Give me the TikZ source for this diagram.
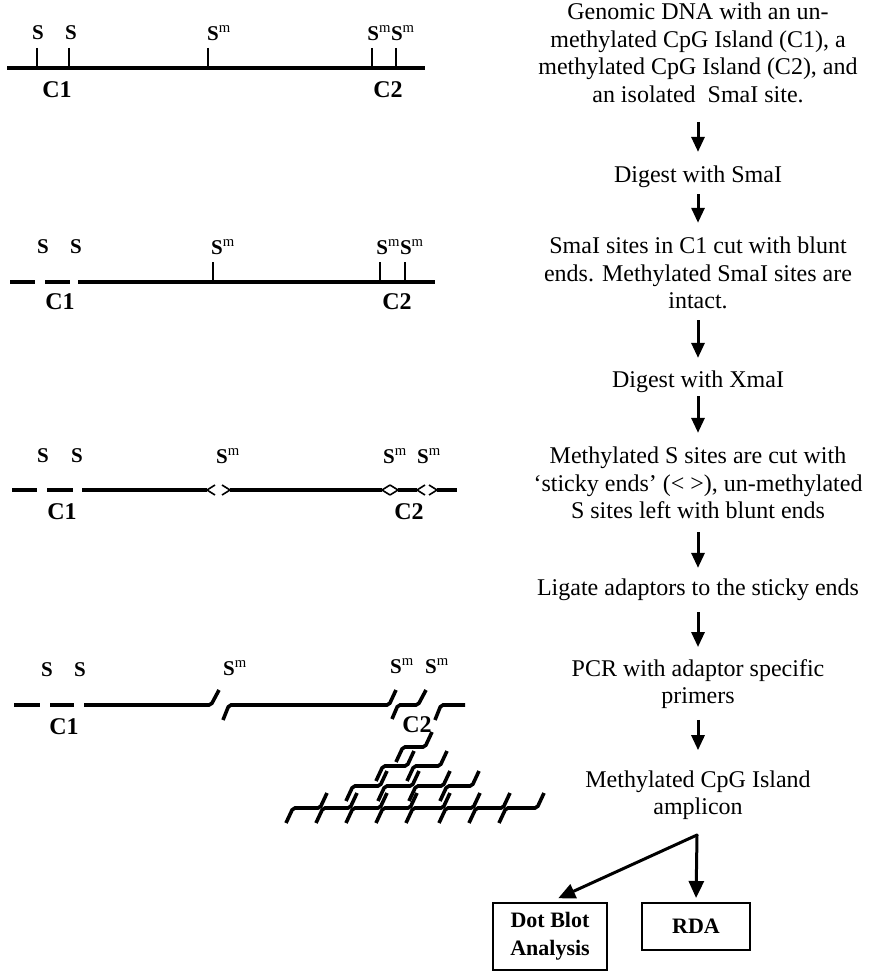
\documentclass[tikz,border=0pt]{standalone}
\usepackage{fontspec}
\setmainfont{Liberation Serif}
\usetikzlibrary{arrows.meta}

\tikzset{
  dna/.style={line width=3.6pt},
  tick/.style={line width=1.8pt},
  endmark/.style={line width=1.6pt},
  sitelbl/.style={font=\fontsize{21}{24}\selectfont\bfseries, inner sep=0pt},
  islandlbl/.style={font=\fontsize{24}{26}\selectfont\bfseries, inner sep=0pt},
  steptext/.style={align=center, inner sep=0pt, font=\fontsize{24}{27.5}\selectfont},
  flow/.style={-{Triangle[length=15pt,width=13pt]}, line width=3pt},
  branch/.style={-{Triangle[length=17pt,width=15pt]}, line width=3pt, line cap=round},
  resultbox/.style={draw, line width=2pt, align=center, inner sep=0pt, font=\fontsize{22}{28}\selectfont\bfseries},
}

\newcommand{\smsite}{S\textsuperscript{\normalfont m}}
% amplicon piece: left x, right x, y
\newcommand{\pcrfrag}[3]{\draw[dna, rounded corners=2pt] (#1-7,#3+15) -- (#1,#3) -- (#2,#3) -- (#2+7,#3-15);}
% sticky ends < > : left x, right x, y
\newcommand{\stickycut}[3]{%
  \draw[endmark] (#1+8,#3-5) -- (#1,#3) -- (#1+8,#3+5);
  \draw[endmark] (#2-8,#3-5) -- (#2,#3) -- (#2-8,#3+5);}

\begin{document}
\begin{tikzpicture}[x=1pt,y=-1pt]
    \useasboundingbox (0,0) rectangle (877,976);

    % genomic DNA
    \draw[dna] (7,68) -- (425,68);
    \foreach \x in {37,69,208,372,396} \draw[tick] (\x,48) -- (\x,67);
    \node[sitelbl] (r1sa) at (38,33) {S};
    \node[sitelbl] (r1sb) at (71,33) {S};
    \node[sitelbl] (r1sm) at (219,33) {\smsite};
    \node[sitelbl] (r1smm) at (391,33) {\smsite\smsite};
    \node[islandlbl] (r1ca) at (57,90) {C1};
    \node[islandlbl] (r1cb) at (388,90) {C2};

    % after SmaI
    \draw[dna] (10,282) -- (35,282);
    \draw[dna] (45,282) -- (70,282);
    \draw[dna] (78,282) -- (435,282);
    \foreach \x in {213,380,405} \draw[tick] (\x,262) -- (\x,281);
    \node[sitelbl] (r2sa) at (43,247) {S};
    \node[sitelbl] (r2sb) at (76,247) {S};
    \node[sitelbl] (r2sm) at (223,247) {\smsite};
    \node[sitelbl] (r2smm) at (400,247) {\smsite\smsite};
    \node[islandlbl] (r2ca) at (60,302) {C1};
    \node[islandlbl] (r2cb) at (397,302) {C2};

    % after XmaI
    \draw[dna] (12,490) -- (37,490);
    \draw[dna] (47,490) -- (73,490);
    \draw[dna] (82,490) -- (207,490);
    \draw[dna] (230,490) -- (382,490);
    \draw[dna] (398,490) -- (417,490);
    \draw[dna] (437,490) -- (457,490);
    \stickycut{207}{230}{490}
    \stickycut{382}{398}{490}
    \stickycut{417}{437}{490}
    \node[sitelbl] (r3sa) at (43,456) {S};
    \node[sitelbl] (r3sb) at (77,456) {S};
    \node[sitelbl] (r3sm) at (228,456) {\smsite};
    \node[sitelbl] (r3smb) at (395,456) {\smsite};
    \node[sitelbl] (r3smc) at (429,456) {\smsite};
    \node[islandlbl] (r3ca) at (62,512) {C1};
    \node[islandlbl] (r3cb) at (409,512) {C2};

    % adaptors ligated
    \draw[dna] (14,705) -- (40,705);
    \draw[dna] (50,705) -- (74,705);
    \draw[dna, rounded corners=2pt] (84,705) -- (211,705) -- (219,690);
    \draw[dna, rounded corners=2pt] (223,720) -- (229,705) -- (389,705) -- (396,690);
    \draw[dna, rounded corners=2pt] (392,719) -- (398,705) -- (418,705) -- (426,690);
    \draw[dna, rounded corners=2pt] (435,720) -- (441,705) -- (465,705);
    \node[sitelbl] (r4sa) at (47,670) {S};
    \node[sitelbl] (r4sb) at (80,670) {S};
    \node[sitelbl] (r4sm) at (235,668) {\smsite};
    \node[sitelbl] (r4smb) at (402,666) {\smsite};
    \node[sitelbl] (r4smc) at (437,666) {\smsite};
    \node[islandlbl] (r4ca) at (64,727) {C1};
    \node[islandlbl] (r4cb) at (417,725) {C2};

    % PCR products
    \foreach \a/\b in {403/425} {\pcrfrag{\a}{\b}{747}}
    \foreach \a/\b in {383/407,414/440} {\pcrfrag{\a}{\b}{766}}
    \foreach \a/\b in {353/380,385/412,416/443,447/472} {\pcrfrag{\a}{\b}{786}}
    \foreach \a/\b in {293/320,323/350,353/380,383/410,413/443,446/473,476/503,506/537} {\pcrfrag{\a}{\b}{808}}

    % protocol steps
    \node[steptext] (genomic) at (698,53) {Genomic DNA with an un-\\methylated CpG Island (C1), a\\methylated CpG Island (C2), and\\an isolated~ SmaI site.};
    \node[steptext] (digsma) at (698,177) {Digest with SmaI};
    \node[steptext] (smacut) at (698,273) {SmaI sites in C1 cut with blunt\\ends. Methylated SmaI sites are\\intact.};
    \node[steptext] (digxma) at (698,382) {Digest with XmaI};
    \node[steptext] (xmacut) at (698,483) {Methylated S sites are cut with\\`sticky ends' (< >), un-methylated\\S sites left with blunt ends};
    \node[steptext] (ligate) at (698,590) {Ligate adaptors to the sticky ends};
    \node[steptext] (pcr) at (698,684) {PCR with adaptor specific\\primers};
    \node[steptext] (amplicon) at (698,795) {Methylated CpG Island\\amplicon};

    \draw[flow, shorten <=19pt, shorten >=14pt] (genomic) -- (digsma);
    \draw[flow, shorten <=6pt, shorten >=14pt] (digsma) -- (smacut);
    \draw[flow, shorten <=11pt, shorten >=13pt] (smacut) -- (digxma);
    \draw[flow, shorten <=3pt, shorten >=14pt] (digxma) -- (xmacut);
    \draw[flow, shorten <=13pt, shorten >=11pt] (xmacut) -- (ligate);
    \draw[flow, shorten <=11pt, shorten >=12pt] (ligate) -- (pcr);
    \draw[flow, shorten <=11pt, shorten >=20pt] (pcr) -- (amplicon);

    % analysis
    \coordinate (split) at (697,835);
    \node[resultbox, minimum width=114pt, minimum height=67pt, anchor=north] (dotblot) at (550,902) {Dot Blot\\Analysis};
    \node[resultbox, minimum width=108pt, minimum height=47pt, anchor=north] (rda) at (696,902) {RDA};
    \draw[branch, shorten >=9pt] (split) -- (dotblot.north);
    \draw[branch, shorten >=4pt] (split) -- (rda.north);
\end{tikzpicture}
\end{document}
